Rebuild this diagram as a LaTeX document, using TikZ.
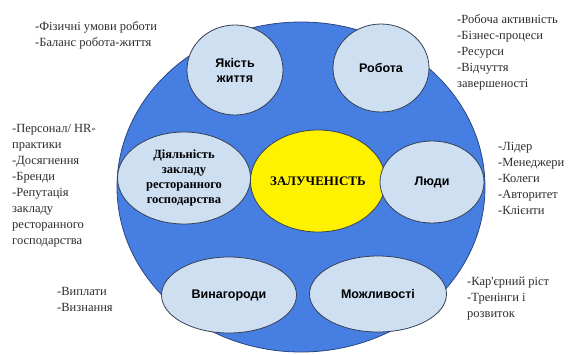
\documentclass[tikz,border=0pt]{standalone}
\usepackage{fontspec}
\setmainfont{Liberation Serif}
\newfontfamily\timesf{Liberation Serif}
\newfontfamily\arialf{Liberation Sans}
\usetikzlibrary{shapes.geometric}
\definecolor{bigblue}{RGB}{70,126,226}
\definecolor{bigedge}{RGB}{40,70,130}
\definecolor{lightb}{RGB}{206,223,242}
\definecolor{smalledge}{RGB}{55,65,85}
\definecolor{txtgrey}{RGB}{45,45,45}
\tikzset{
  bigcirc/.style={ellipse, draw=bigedge, line width=0.8pt, fill=bigblue, inner sep=0pt},
  petal/.style={ellipse, draw=smalledge, line width=0.8pt, fill=lightb, inner sep=0pt, align=center, text=black},
  sanslabel/.style={font=\arialf\bfseries\fontsize{12.5}{15}\selectfont},
  seriflabel/.style={font=\timesf\bfseries\fontsize{12.5}{15}\selectfont},
  core/.style={ellipse, draw=smalledge, line width=0.8pt, fill=yellow, inner sep=0pt, text=black, font=\timesf\bfseries\fontsize{13}{15}\selectfont},
  listtext/.style={anchor=north west, inner sep=0pt, align=left, text=txtgrey, font=\timesf\fontsize{12.5}{16}\selectfont}
}
\begin{document}
\begin{tikzpicture}[x=1pt,y=-1pt]
\useasboundingbox (0,0) rectangle (568,354);
\node[bigcirc, minimum width=368pt, minimum height=330pt] (big) at (301,187) {};

\node[petal, sanslabel, minimum width=96pt, minimum height=90pt] (quality) at (235,70) {Якість\\життя};
\node[petal, sanslabel, minimum width=96pt, minimum height=88pt] (work) at (381,68) {Робота};
\node[petal, seriflabel, minimum width=133pt, minimum height=92pt] (activity) at (184,178) {Діяльність\\закладу\\ресторанного\\господарства};
\node[core, minimum width=120pt, minimum height=102pt] (eng) at (318,181) {ЗАЛУЧЕНІСТЬ};
\node[petal, sanslabel, minimum width=104pt, minimum height=82pt] (people) at (432,182) {Люди};
\node[petal, sanslabel, minimum width=135pt, minimum height=76pt] (rewards) at (229,295) {Винагороди};
\node[petal, sanslabel, minimum width=137pt, minimum height=76pt] (opport) at (378,294) {Можливості};

\node[listtext] (tl) at (35,21) {-Фізичні умови роботи\\-Баланс робота-життя};
\node[listtext] (tr) at (457,14) {-Робоча активність\\-Бізнес-процеси\\-Ресурси\\-Відчуття\\завершеності};
\node[listtext] (ml) at (12,124) {-Персонал/ HR-\\практики\\-Досягнення\\-Бренди\\-Репутація\\закладу\\ресторанного\\господарства};
\node[listtext] (mr) at (498,142) {-Лідер\\-Менеджери\\-Колеги\\-Авторитет\\-Клієнти};
\node[listtext] (bl) at (57,287) {-Виплати\\-Визнання};
\node[listtext] (br) at (467,277) {-Кар'єрний ріст\\-Тренінги і\\розвиток};
\end{tikzpicture}
\end{document}
